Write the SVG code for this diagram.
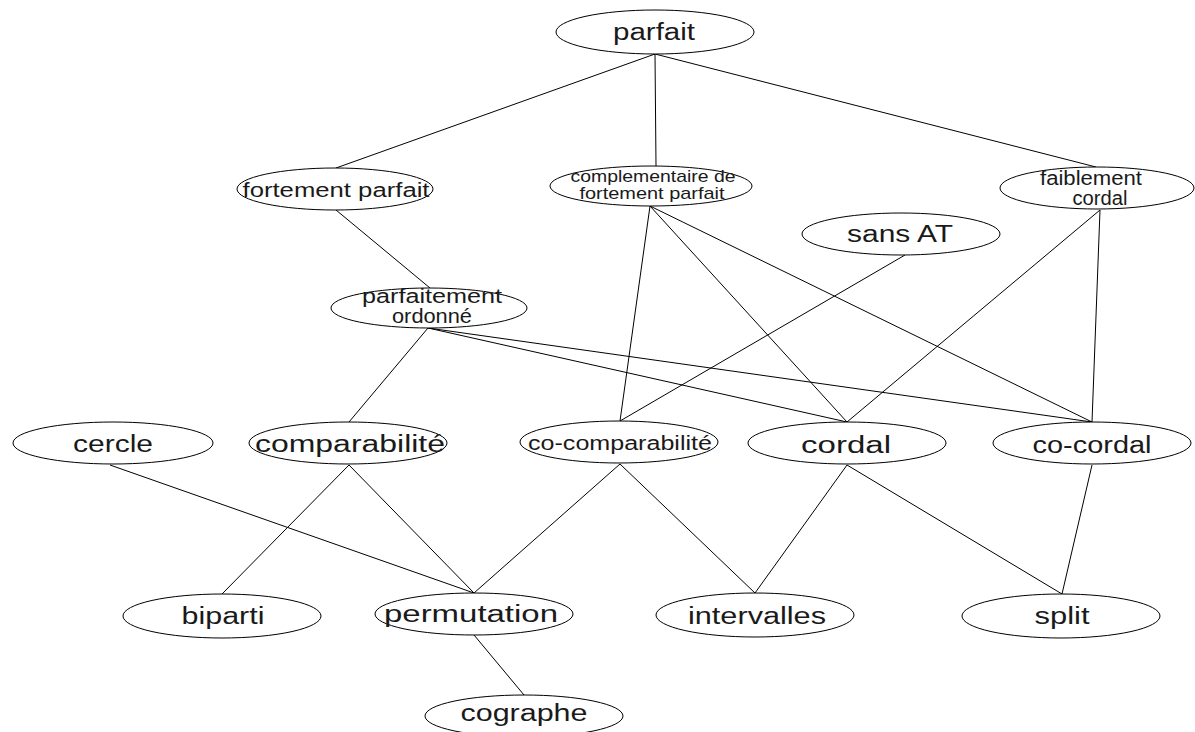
<svg xmlns="http://www.w3.org/2000/svg" width="1195" height="732" viewBox="0 0 1195 732">
  <style>
    .node ellipse { fill: #ffffff; stroke: #000000; stroke-width: 1; }
    .node text { font-family: "Liberation Sans", Arial, sans-serif; fill: #1a1a1a; text-anchor: middle; }
    .big { font-size: 23px; }
    .mid { font-size: 20px; }
    .small { font-size: 17px; }
    #edges line { stroke: #000000; stroke-width: 1; }
  </style>
  <rect width="1195" height="732" fill="#ffffff"/>

  <!-- connectors -->
  <g id="edges">
    <line x1="655" y1="54" x2="336" y2="168"/>
    <line x1="655" y1="54" x2="656" y2="166"/>
    <line x1="655" y1="54" x2="1096" y2="167"/>
    <line x1="336" y1="210" x2="430" y2="288"/>
    <line x1="428" y1="328" x2="349" y2="422"/>
    <line x1="428" y1="328" x2="847" y2="422"/>
    <line x1="428" y1="328" x2="1092" y2="422"/>
    <line x1="650" y1="206" x2="620" y2="421"/>
    <line x1="650" y1="206" x2="847" y2="422"/>
    <line x1="650" y1="206" x2="1092" y2="422"/>
    <line x1="905" y1="255" x2="620" y2="421"/>
    <line x1="1100" y1="210" x2="847" y2="422"/>
    <line x1="1100" y1="210" x2="1092" y2="422"/>
    <line x1="110" y1="465" x2="474" y2="593"/>
    <line x1="349" y1="465" x2="222" y2="594"/>
    <line x1="349" y1="465" x2="474" y2="593"/>
    <line x1="620" y1="464" x2="474" y2="593"/>
    <line x1="620" y1="464" x2="755" y2="593"/>
    <line x1="847" y1="465" x2="755" y2="593"/>
    <line x1="847" y1="465" x2="1062" y2="594"/>
    <line x1="1092" y1="465" x2="1062" y2="594"/>
    <line x1="474" y1="635" x2="524" y2="695"/>
  </g>

  <!-- level 0 -->
  <g id="parfait" class="node">
    <ellipse cx="655" cy="32" rx="99" ry="22"/>
    <text class="big" x="654" y="40" textLength="82" lengthAdjust="spacingAndGlyphs">parfait</text>
  </g>

  <!-- level 1 -->
  <g id="fortement-parfait" class="node">
    <ellipse cx="335" cy="189" rx="98" ry="21"/>
    <text class="mid" x="336" y="197" textLength="187" lengthAdjust="spacingAndGlyphs">fortement parfait</text>
  </g>
  <g id="complementaire-fortement-parfait" class="node">
    <ellipse cx="651" cy="186" rx="101" ry="20"/>
    <text class="small" x="653" y="182" textLength="165" lengthAdjust="spacingAndGlyphs">complementaire de</text>
    <text class="small" x="652" y="199" textLength="145" lengthAdjust="spacingAndGlyphs">fortement parfait</text>
  </g>
  <g id="faiblement-cordal" class="node">
    <ellipse cx="1097" cy="188" rx="97" ry="21"/>
    <text class="mid" x="1091" y="185" textLength="102" lengthAdjust="spacingAndGlyphs">faiblement</text>
    <text class="mid" x="1100" y="205" textLength="55" lengthAdjust="spacingAndGlyphs">cordal</text>
  </g>
  <g id="sans-AT" class="node">
    <ellipse cx="901" cy="234" rx="99" ry="21"/>
    <text class="big" x="900" y="242" textLength="106" lengthAdjust="spacingAndGlyphs">sans AT</text>
  </g>

  <!-- level 2 -->
  <g id="parfaitement-ordonne" class="node">
    <ellipse cx="429" cy="308" rx="98" ry="20"/>
    <text class="mid" x="432" y="303" textLength="140" lengthAdjust="spacingAndGlyphs">parfaitement</text>
    <text class="mid" x="432" y="323" textLength="80" lengthAdjust="spacingAndGlyphs">ordonné</text>
  </g>

  <!-- level 3 -->
  <g id="cercle" class="node">
    <ellipse cx="113" cy="443" rx="100" ry="21"/>
    <text class="big" x="113" y="452" textLength="80" lengthAdjust="spacingAndGlyphs">cercle</text>
  </g>
  <g id="comparabilite" class="node">
    <ellipse cx="348" cy="443" rx="99" ry="21"/>
    <text class="big" x="350" y="452" textLength="190" lengthAdjust="spacingAndGlyphs">comparabilité</text>
  </g>
  <g id="co-comparabilite" class="node">
    <ellipse cx="619" cy="442" rx="99" ry="21"/>
    <text class="mid" x="620" y="450" textLength="184" lengthAdjust="spacingAndGlyphs">co-comparabilité</text>
  </g>
  <g id="cordal" class="node">
    <ellipse cx="847" cy="443" rx="99" ry="21"/>
    <text class="big" x="846" y="453" textLength="90" lengthAdjust="spacingAndGlyphs">cordal</text>
  </g>
  <g id="co-cordal" class="node">
    <ellipse cx="1092" cy="443" rx="99" ry="21"/>
    <text class="big" x="1092" y="453" textLength="119" lengthAdjust="spacingAndGlyphs">co-cordal</text>
  </g>

  <!-- level 4 -->
  <g id="biparti" class="node">
    <ellipse cx="222" cy="616" rx="99" ry="22"/>
    <text class="big" x="223" y="624" textLength="83" lengthAdjust="spacingAndGlyphs">biparti</text>
  </g>
  <g id="permutation" class="node">
    <ellipse cx="474" cy="614" rx="99" ry="21"/>
    <text class="big" x="471" y="622" textLength="174" lengthAdjust="spacingAndGlyphs">permutation</text>
  </g>
  <g id="intervalles" class="node">
    <ellipse cx="755" cy="615" rx="99" ry="22"/>
    <text class="big" x="757" y="624" textLength="138" lengthAdjust="spacingAndGlyphs">intervalles</text>
  </g>
  <g id="split" class="node">
    <ellipse cx="1061" cy="616" rx="99" ry="22"/>
    <text class="big" x="1062" y="624" textLength="55" lengthAdjust="spacingAndGlyphs">split</text>
  </g>

  <!-- level 5 -->
  <g id="cographe" class="node">
    <ellipse cx="524" cy="716" rx="99" ry="21"/>
    <text class="big" x="524" y="721" textLength="127" lengthAdjust="spacingAndGlyphs">cographe</text>
  </g>
</svg>
